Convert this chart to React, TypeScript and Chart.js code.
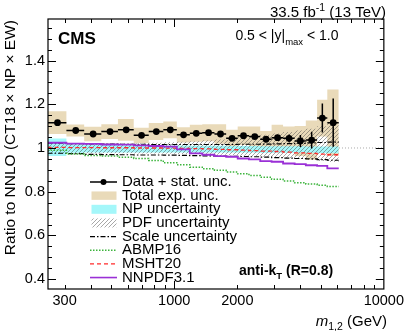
import React, { useEffect, useRef } from "react";
import { Chart, registerables } from "chart.js";

Chart.register(...registerables);

// ---------- data ----------
const binEdges = [249, 306, 372, 449, 539, 641, 756, 887, 1029, 1187, 1361, 1556, 1769, 2008, 2273, 2572, 2915, 3306, 3754, 4244, 4805, 5374, 6094];
const dataRatio = [1.116, 1.080, 1.064, 1.075, 1.083, 1.058, 1.075, 1.083, 1.060, 1.067, 1.070, 1.064, 1.044, 1.056, 1.052, 1.040, 1.047, 1.044, 1.032, 1.036, 1.137, 1.116];
const statUnc = [0.004, 0.003, 0.003, 0.003, 0.003, 0.003, 0.003, 0.003, 0.003, 0.004, 0.004, 0.005, 0.005, 0.006, 0.007, 0.008, 0.010, 0.018, 0.027, 0.038, 0.066, 0.110];
const totalUnc = [0.052, 0.027, 0.033, 0.034, 0.050, 0.035, 0.039, 0.038, 0.035, 0.039, 0.039, 0.045, 0.039, 0.042, 0.046, 0.038, 0.059, 0.054, 0.069, 0.090, 0.084, 0.151];
const npUp = [1.043, 1.016, 1.015, 1.014, 1.013, 1.012, 1.012, 1.011, 1.011, 1.010, 1.010, 1.010, 1.009, 1.009, 1.009, 1.008, 1.008, 1.008, 1.008, 1.007, 1.007, 1.007];
const npDown = [0.963, 0.978, 0.979, 0.979, 0.979, 0.979, 0.979, 0.979, 0.979, 0.979, 0.979, 0.979, 0.979, 0.979, 0.979, 0.978, 0.978, 0.978, 0.978, 0.978, 0.977, 0.977];
const pdfUp = [1.022, 1.020, 1.020, 1.020, 1.021, 1.022, 1.024, 1.026, 1.028, 1.031, 1.035, 1.039, 1.044, 1.049, 1.054, 1.060, 1.066, 1.073, 1.080, 1.088, 1.100, 1.114];
const pdfDown = [0.975, 0.976, 0.976, 0.976, 0.976, 0.975, 0.975, 0.974, 0.973, 0.972, 0.971, 0.969, 0.967, 0.965, 0.963, 0.960, 0.957, 0.954, 0.950, 0.946, 0.941, 0.936];
const scaleUp = [1.022, 1.020, 1.019, 1.018, 1.017, 1.017, 1.016, 1.016, 1.016, 1.016, 1.016, 1.016, 1.016, 1.017, 1.017, 1.018, 1.019, 1.020, 1.021, 1.023, 1.025, 1.027];
const scaleDown = [0.976, 0.974, 0.971, 0.970, 0.969, 0.968, 0.968, 0.967, 0.966, 0.965, 0.964, 0.963, 0.962, 0.961, 0.960, 0.958, 0.956, 0.954, 0.952, 0.950, 0.947, 0.944];
const abmp16 = [0.990, 0.972, 0.966, 0.963, 0.958, 0.952, 0.943, 0.932, 0.923, 0.912, 0.905, 0.898, 0.890, 0.882, 0.874, 0.866, 0.857, 0.849, 0.841, 0.835, 0.829, 0.824];
const msht20 = [1.003, 1.002, 1.002, 1.001, 1.001, 1.000, 1.000, 0.999, 0.998, 0.997, 0.996, 0.994, 0.992, 0.990, 0.988, 0.986, 0.984, 0.981, 0.978, 0.975, 0.972, 0.969];
const nnpdf31 = [1.024, 1.020, 1.019, 1.016, 1.015, 1.012, 1.009, 1.006, 0.994, 0.975, 0.969, 0.963, 0.960, 0.952, 0.948, 0.940, 0.937, 0.929, 0.926, 0.921, 0.918, 0.907];

const xLabelTicks = [300, 1000, 2000, 10000];
const xMinorTicks = [300, 400, 500, 600, 700, 800, 900, 1000, 2000, 3000, 4000, 5000, 6000, 7000, 8000, 9000];
const xMajorTicks = [1000];
const yLabelTicks = [0.4, 0.6, 0.8, 1, 1.2, 1.4];
const yMinorTicks = [0.4, 0.45, 0.5, 0.55, 0.6, 0.65, 0.7, 0.75, 0.8, 0.85, 0.9, 0.95, 1, 1.05, 1.1, 1.15, 1.2, 1.25, 1.3, 1.35, 1.4, 1.45, 1.5, 1.55];
const legendLabels = ["Data + stat. unc.", "Total exp. unc.", "NP uncertainty", "PDF uncertainty", "Scale uncertainty", "ABMP16", "MSHT20", "NNPDF3.1"];

const X_MIN = 250;
const X_MAX = 10000;
const Y_MIN = 0.355;
const Y_MAX = 1.59;

// ---------- styles ----------
const FONT = '"Liberation Sans", Arial, Helvetica, sans-serif';
const TAN = "#e9dab9";
const CYAN = "#a4f7fa";
const GREEN = "#3cb43c";
const RED = "#ff2b2b";
const PURPLE = "#9a30d6";
const SCALE_DASH = [5, 2, 1.5, 2];
const GREEN_DASH = [1.5, 1.5];
const RED_DASH = [4, 3];

type Pt = { x: number; y: number | null };

function stepPoints(vals: number[]): Pt[] {
  const pts: Pt[] = [];
  vals.forEach((v, i) => {
    pts.push({ x: binEdges[i], y: v });
    pts.push({ x: binEdges[i + 1], y: v });
  });
  return pts;
}

function makeHatch(): CanvasPattern | string {
  const c = document.createElement("canvas");
  c.width = 4;
  c.height = 4;
  const p = c.getContext("2d");
  if (!p) return "rgba(80,80,80,0.3)";
  p.strokeStyle = "rgba(75,75,75,0.7)";
  p.lineWidth = 0.7;
  p.beginPath();
  p.moveTo(0, 4);
  p.lineTo(4, 0);
  p.moveTo(-1, 1);
  p.lineTo(1, -1);
  p.moveTo(3, 5);
  p.lineTo(5, 3);
  p.stroke();
  const pat = p.createPattern(c, "repeat");
  return pat || "rgba(80,80,80,0.3)";
}

export default function App() {
  const ref = useRef<HTMLCanvasElement | null>(null);

  useEffect(() => {
    const canvas = ref.current;
    if (!canvas) return;
    const hatch = makeHatch();

    const centers = binEdges.slice(0, -1).map((lo, i) => (lo + binEdges[i + 1]) / 2);
    const pointData = centers.map((c, i) => ({ x: c, y: dataRatio[i] }));
    const hBars: Pt[] = [];
    dataRatio.forEach((v, i) => {
      hBars.push({ x: binEdges[i], y: v });
      hBars.push({ x: binEdges[i + 1], y: v });
      hBars.push({ x: binEdges[i + 1], y: null });
    });
    const vBars: Pt[] = [];
    dataRatio.forEach((v, i) => {
      vBars.push({ x: centers[i], y: v - statUnc[i] });
      vBars.push({ x: centers[i], y: v + statUnc[i] });
      vBars.push({ x: centers[i], y: null });
    });
    const totUpArr = dataRatio.map((v, i) => v + totalUnc[i]);
    const totDnArr = dataRatio.map((v, i) => v - totalUnc[i]);

    const lineBase = { showLine: true, pointRadius: 0, fill: false, spanGaps: false };
    const edge = { showLine: true, pointRadius: 0, borderWidth: 0, borderColor: "transparent" };

    const decor = {
      id: "decor",
      afterDraw(chart: any) {
        const { ctx, chartArea: a } = chart;
        const xs = chart.scales.x;
        const ys = chart.scales.y;
        ctx.save();
        // frame
        ctx.strokeStyle = "#000";
        ctx.lineWidth = 1.2;
        ctx.setLineDash([]);
        ctx.strokeRect(a.left, a.top, a.right - a.left, a.bottom - a.top);
        // y ticks, both sides
        ctx.lineWidth = 1;
        ctx.beginPath();
        yMinorTicks.forEach((v) => {
          const py = Math.round(ys.getPixelForValue(v)) + 0.5;
          const len = yLabelTicks.some((t) => Math.abs(t - v) < 1e-6) ? 8 : 4;
          ctx.moveTo(a.left, py);
          ctx.lineTo(a.left + len, py);
          ctx.moveTo(a.right, py);
          ctx.lineTo(a.right - len, py);
        });
        // x ticks, both sides
        xMinorTicks.forEach((v) => {
          const px = Math.round(xs.getPixelForValue(v)) + 0.5;
          const len = xMajorTicks.includes(v) ? 8 : 4;
          ctx.moveTo(px, a.bottom);
          ctx.lineTo(px, a.bottom - len);
          ctx.moveTo(px, a.top);
          ctx.lineTo(px, a.top + len);
        });
        ctx.stroke();

        ctx.fillStyle = "#000";
        ctx.textBaseline = "alphabetic";
        ctx.textAlign = "left";

        // CMS
        ctx.font = `bold 17px ${FONT}`;
        ctx.fillText("CMS", 58, 44);

        // lumi
        const lumiBig = `15px ${FONT}`;
        const lumiSmall = `10.5px ${FONT}`;
        ctx.font = lumiBig;
        const p1 = "33.5 fb";
        const p3 = " (13 TeV)";
        const w1 = ctx.measureText(p1).width;
        const w3 = ctx.measureText(p3).width;
        ctx.font = lumiSmall;
        const p2 = "-1";
        const w2 = ctx.measureText(p2).width;
        let sx = 386 - (w1 + w2 + w3);
        ctx.font = lumiBig;
        ctx.fillText(p1, sx, 16.5);
        ctx.font = lumiSmall;
        ctx.fillText(p2, sx + w1, 10.5);
        ctx.font = lumiBig;
        ctx.fillText(p3, sx + w1 + w2, 16.5);

        // rapidity region
        const big = `14px ${FONT}`;
        const small = `9.5px ${FONT}`;
        ctx.font = big;
        const r1 = "0.5 < |y|";
        const r3 = " < 1.0";
        const rw1 = ctx.measureText(r1).width;
        const rw3 = ctx.measureText(r3).width;
        ctx.font = small;
        const r2 = "max";
        const rw2 = ctx.measureText(r2).width;
        sx = 338.5 - (rw1 + rw2 + rw3);
        ctx.font = big;
        ctx.fillText(r1, sx, 40);
        ctx.font = small;
        ctx.fillText(r2, sx + rw1, 44.5);
        ctx.font = big;
        ctx.fillText(r3, sx + rw1 + rw2, 40);

        // anti-kT
        const bb = `bold 14px ${FONT}`;
        const bs = `bold 9.5px ${FONT}`;
        ctx.font = bb;
        const a1 = "anti-k";
        const aw1 = ctx.measureText(a1).width;
        ctx.fillText(a1, 239, 275);
        ctx.font = bs;
        const aw2 = ctx.measureText("T").width;
        ctx.fillText("T", 239 + aw1, 278.5);
        ctx.font = bb;
        ctx.fillText(" (R=0.8)", 239 + aw1 + aw2, 275);

        // x title
        const tBig = `15px ${FONT}`;
        const tSmall = `10.5px ${FONT}`;
        const mI = `italic 15px ${FONT}`;
        ctx.font = mI;
        const mw = ctx.measureText("m").width;
        ctx.font = tSmall;
        const sw = ctx.measureText("1,2").width;
        ctx.font = tBig;
        const gw = ctx.measureText(" (GeV)").width;
        sx = 387 - (mw + sw + gw);
        ctx.font = mI;
        ctx.fillText("m", sx, 326);
        ctx.font = tSmall;
        ctx.fillText("1,2", sx + mw, 329.5);
        ctx.font = tBig;
        ctx.fillText(" (GeV)", sx + mw + sw, 326);

        // y title
        ctx.save();
        ctx.translate(15, 20);
        ctx.rotate(-Math.PI / 2);
        ctx.textAlign = "right";
        ctx.font = `15.5px ${FONT}`;
        ctx.fillText("Ratio to NNLO (CT18 \u00d7 NP \u00d7 EW)", 0, 0);
        ctx.restore();

        // legend
        const lx0 = 90;
        const lx1 = 117;
        const rows = legendLabels.map((_, i) => 182 + i * 13.65);
        const line = (yy: number, color: string, w: number, dash: number[]) => {
          ctx.beginPath();
          ctx.setLineDash(dash);
          ctx.strokeStyle = color;
          ctx.lineWidth = w;
          ctx.moveTo(lx0, yy);
          ctx.lineTo(lx1, yy);
          ctx.stroke();
          ctx.setLineDash([]);
        };
        // data
        line(rows[0], "#000", 1.5, []);
        ctx.beginPath();
        ctx.fillStyle = "#000";
        ctx.arc((lx0 + lx1) / 2, rows[0], 3, 0, Math.PI * 2);
        ctx.fill();
        // boxes
        ctx.fillStyle = TAN;
        ctx.fillRect(91.5, rows[1] - 4.2, 25, 8.4);
        ctx.fillStyle = CYAN;
        ctx.fillRect(91.5, rows[2] - 4.5, 25, 9);
        ctx.fillStyle = hatch as any;
        ctx.fillRect(91.5, rows[3] - 4.5, 25, 9);
        line(rows[4], "#000", 1.2, SCALE_DASH);
        line(rows[5], GREEN, 1.5, GREEN_DASH);
        line(rows[6], RED, 1.3, RED_DASH);
        line(rows[7], PURPLE, 1.6, []);
        ctx.fillStyle = "#000";
        ctx.font = `15px ${FONT}`;
        ctx.textBaseline = "middle";
        legendLabels.forEach((t, i) => ctx.fillText(t, 122, rows[i]));
        ctx.restore();
      },
    };

    const chart = new Chart(canvas, {
      type: "scatter",
      data: {
        datasets: [
          // 0 data points (top)
          { data: pointData, showLine: false, pointRadius: 3.4, pointBackgroundColor: "#000", pointBorderWidth: 0, borderColor: "#000" } as any,
          { ...lineBase, data: vBars, borderColor: "#000", borderWidth: 1.5 },
          { ...lineBase, data: hBars, borderColor: "#000", borderWidth: 1.5 },
          { ...lineBase, data: stepPoints(nnpdf31), borderColor: PURPLE, borderWidth: 1.8 },
          { ...lineBase, data: stepPoints(msht20), borderColor: RED, borderWidth: 1.3, borderDash: RED_DASH },
          { ...lineBase, data: stepPoints(abmp16), borderColor: GREEN, borderWidth: 1.5, borderDash: GREEN_DASH },
          { ...lineBase, data: stepPoints(scaleUp), borderColor: "#000", borderWidth: 1.2, borderDash: SCALE_DASH },
          { ...lineBase, data: stepPoints(scaleDown), borderColor: "#000", borderWidth: 1.2, borderDash: SCALE_DASH },
          // PDF hatch band
          { ...edge, data: stepPoints(pdfUp), fill: "+1", backgroundColor: hatch as any },
          { ...edge, data: stepPoints(pdfDown), fill: false },
          // NP band
          { ...edge, data: stepPoints(npUp), fill: "+1", backgroundColor: CYAN },
          { ...edge, data: stepPoints(npDown), fill: false },
          // total exp band
          { ...edge, data: stepPoints(totUpArr), fill: "+1", backgroundColor: TAN },
          { ...edge, data: stepPoints(totDnArr), fill: false },
          // unity reference line (bottom)
          { ...lineBase, data: [{ x: X_MIN, y: 1 }, { x: X_MAX, y: 1 }], borderColor: "#aaaaaa", borderWidth: 1, borderDash: [1, 2] },
        ] as any,
      },
      options: {
        responsive: false,
        maintainAspectRatio: false,
        devicePixelRatio: 1,
        animation: false,
        events: [],
        layout: { padding: { left: 0, right: 22, top: 19, bottom: 0 } },
        plugins: { legend: { display: false }, tooltip: { enabled: false }, title: { display: false } },
        scales: {
          x: {
            type: "logarithmic",
            min: X_MIN,
            max: X_MAX,
            grid: { display: false, drawTicks: false },
            border: { display: false },
            afterBuildTicks: (s: any) => {
              s.ticks = xLabelTicks.map((v) => ({ value: v }));
            },
            afterFit: (s: any) => {
              s.height = 42;
            },
            ticks: {
              autoSkip: false,
              maxRotation: 0,
              minRotation: 0,
              padding: 3,
              color: "#000",
              font: { family: FONT, size: 14.5 },
              callback: (v: any) => String(v),
            },
          },
          y: {
            type: "linear",
            min: Y_MIN,
            max: Y_MAX,
            grid: { display: false, drawTicks: false },
            border: { display: false },
            afterBuildTicks: (s: any) => {
              s.ticks = yLabelTicks.map((v) => ({ value: v }));
            },
            afterFit: (s: any) => {
              s.width = 48;
            },
            ticks: {
              autoSkip: false,
              padding: 3,
              color: "#000",
              font: { family: FONT, size: 14.5 },
              callback: (v: any) => (Math.abs(v - 1) < 1e-9 ? "1" : Number(v).toFixed(1)),
            },
          },
        },
      } as any,
      plugins: [decor],
    });

    return () => chart.destroy();
  }, []);

  return (
    <div style={{ position: "absolute", left: 0, top: 0, width: 407, height: 331, background: "#fff" }}>
      <canvas ref={ref} width={407} height={331} style={{ display: "block", width: 407, height: 331 }} />
    </div>
  );
}
